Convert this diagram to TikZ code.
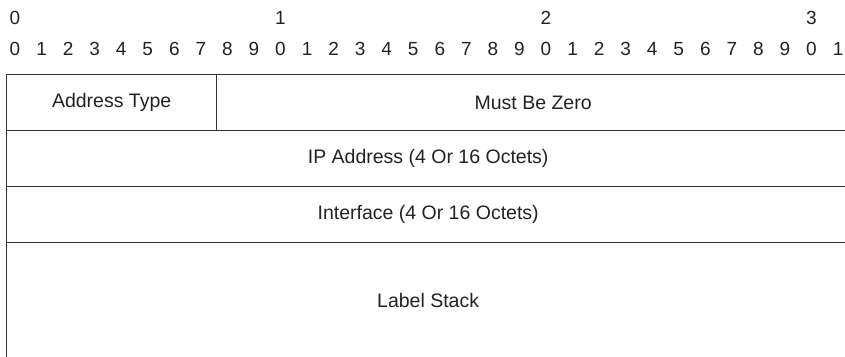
\documentclass[tikz,border=0pt]{standalone}
\usepackage{fontspec}
\setmainfont{Liberation Sans}
\definecolor{ink}{HTML}{222222}
\definecolor{rule}{HTML}{333333}
\begin{document}
\begin{tikzpicture}[x=1pt,y=-1pt,
  field/.style={draw=rule, line width=1.3pt, rectangle, inner sep=0pt, anchor=north west,
    text=ink, font=\fontsize{19.5}{23}\selectfont},
  bitnum/.style={inner sep=0pt, text=ink, font=\fontsize{19}{22}\selectfont}]
\useasboundingbox (0,0) rectangle (845,356);
\clip (0,0) rectangle (845,356);
% bit numbers
\foreach \i in {0,...,31}{
  \pgfmathtruncatemacro{\d}{mod(\i,10)}
  \node[bitnum] (b\i) at ({15+\i*26.55},49) {\d};
}
\foreach \t in {0,1,2,3}{
  \node[bitnum] (t\t) at ({15+\t*265.5},18) {\t};
}
% fields
\node[field, minimum width=210pt, minimum height=56pt] (atype) at (6,74) {Address Type};
\node[field, minimum width=633pt, minimum height=56pt] (mbz) at (216,74) {Must Be Zero};
\node[field, minimum width=843pt, minimum height=56pt] (ip) at (6,130) {IP Address (4 Or 16 Octets)};
\node[field, minimum width=843pt, minimum height=56pt] (iface) at (6,186) {Interface (4 Or 16 Octets)};
\node[field, minimum width=843pt, minimum height=115pt] (lstack) at (6,242) {Label Stack};
\end{tikzpicture}
\end{document}
